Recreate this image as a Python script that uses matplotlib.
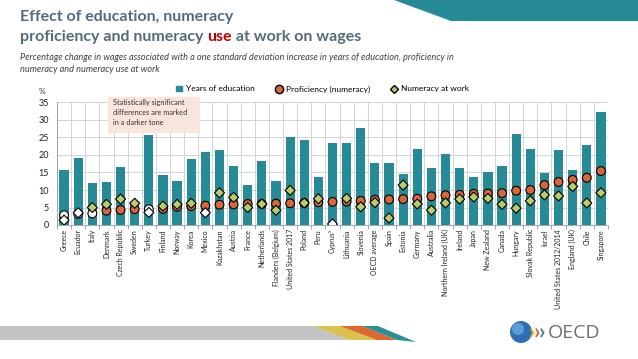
import matplotlib.pyplot as plt
from matplotlib.patches import Polygon, Rectangle, Circle
from matplotlib.lines import Line2D
import numpy as np

plt.rcParams['font.family'] = ['Lato', 'DejaVu Sans']

countries = ['Greece', 'Ecuador', 'Italy', 'Denmark', 'Czech Republic', 'Sweden', 'Turkey',
             'Finland', 'Norway', 'Korea', 'Mexico', 'Kazakhstan', 'Austria', 'France',
             'Netherlands', 'Flanders (Belgium)', 'United States 2017', 'Poland', 'Peru',
             'Cyprus\u00b9', 'Lithuania', 'Slovenia', 'OECD average', 'Spain', 'Estonia',
             'Germany', 'Australia', 'Northern Ireland (UK)', 'Ireland', 'Japan', 'New Zealand',
             'Canada', 'Hungary', 'Slovak Republic', 'Israel', 'United States 2012/2014',
             'England (UK)', 'Chile', 'Singapore']

education = [15.7, 19.0, 11.9, 12.4, 16.5, 6.9, 25.6, 14.3, 12.6, 18.8, 20.8, 21.4, 16.9, 11.4,
             18.4, 12.6, 25.1, 24.4, 13.8, 23.3, 23.3, 27.8, 17.7, 17.8, 14.7, 21.7, 16.3, 20.3,
             16.2, 13.8, 15.1, 16.9, 26.0, 21.7, 14.8, 21.5, 15.7, 22.8, 32.4]

proficiency = [2.8, 3.2, 3.3, 4.1, 4.3, 4.5, 4.5, 4.6, 5.2, 5.4, 5.5, 5.8, 5.9, 6.0, 6.0, 6.1,
               6.2, 6.3, 6.5, 6.6, 6.7, 6.9, 7.2, 7.3, 7.4, 7.5, 8.2, 8.5, 8.6, 8.9, 9.0, 9.1,
               9.8, 10.0, 11.4, 12.3, 12.9, 13.5, 15.4]

numeracy_use = [1.4, 3.5, 5.0, 5.9, 7.4, 6.2, 3.6, 5.4, 5.9, 6.2, 3.5, 9.2, 7.9, 5.0, 6.0, 4.2,
                9.9, 6.3, 7.5, 0.3, 7.6, 5.2, 6.4, 2.0, 11.4, 6.0, 4.2, 6.3, 7.4, 8.0, 7.6, 5.9,
                4.8, 6.9, 8.6, 8.3, 11.0, 6.3, 9.2]

# countries where the effect is not statistically significant (drawn in white)
prof_not_sig = ['Greece', 'Ecuador', 'Italy', 'Turkey']
use_not_sig = ['Greece', 'Ecuador', 'Turkey', 'Mexico', 'Cyprus\u00b9']

teal = '#268b96'
orange = '#d9653b'
green = '#b8cc6a'
title_col = '#566b7a'

fig = plt.figure(figsize=(6.38, 3.59), dpi=100)

# decoration layer in pixel coordinates (drawn above the chart, nothing overlaps but the note)
deco = fig.add_axes([0, 0, 1, 1], zorder=3)
deco.set_xlim(0, 638)
deco.set_ylim(359, 0)
deco.axis('off')

deco.add_patch(Polygon([(394, 0), (638, 0), (638, 21), (451, 21)], closed=True, color='#268b96', lw=0))
deco.add_patch(Polygon([(0, 326), (313, 326), (350, 340), (0, 340)], closed=True, color='#c3c3c3', lw=0))
deco.add_patch(Polygon([(313, 326), (340, 326), (377, 340), (350, 340)], closed=True, color='#d9c14a', lw=0))
deco.add_patch(Polygon([(340, 326), (362, 326), (397, 340), (377, 340)], closed=True, color='#e0662f', lw=0))
deco.add_patch(Polygon([(362, 326), (378, 326), (416, 342), (397, 340)], closed=True, color='#2b8f98', lw=0))

# logo
deco.add_patch(Circle((521, 332), 11, color='#2e6fb3', lw=0))
deco.add_patch(Circle((518, 329), 6, color='#5b9bd6', lw=0))
deco.text(529, 333, '\u203a', color='#e3b33a', fontsize=16, va='center', fontweight='bold')
deco.text(534, 333, '\u203a', color='#e0662f', fontsize=16, va='center', fontweight='bold')
deco.text(539, 333, '\u203a', color='#2b8f98', fontsize=16, va='center', fontweight='bold')
deco.text(548, 333, 'OECD', color='#6e6e6e', fontsize=14, va='center', family=['Open Sans', 'DejaVu Sans'])

# title
fig.canvas.draw()
renderer = fig.canvas.get_renderer()
deco.text(20, 17, 'Effect of education, numeracy', color=title_col, fontsize=11.5,
          fontweight='bold', va='center')
parts = [('proficiency and numeracy ', title_col), ('use', '#c00000'), (' at work on wages', title_col)]
xpos = 20
for txt, col in parts:
    t = deco.text(xpos, 37, txt, color=col, fontsize=11.5, fontweight='bold', va='center')
    bb = t.get_window_extent(renderer=renderer)
    xpos += bb.width
deco.text(20, 58, 'Percentage change in wages associated with a one standard deviation increase in years of education, proficiency in',
          color='#404040', fontsize=6.6, style='italic', va='center')
deco.text(20, 69, 'numeracy and numeracy use at work', color='#404040', fontsize=6.6, style='italic', va='center')
deco.text(39, 92, '%', color='#333333', fontsize=6, va='center')

# note box
deco.add_patch(Rectangle((108, 97), 92, 36, color='#fae5dc', lw=0))
deco.text(113, 99.5, 'Statistically significant\ndifferences are marked\nin a darker tone',
          fontsize=5.3, color='#333333', va='top', ha='left', linespacing=1.45)

# chart
ax = fig.add_axes([57 / 638, 1 - 225 / 359, (608 - 57) / 638, (225 - 102.5) / 359], zorder=2)
ax.patch.set_alpha(0)
x = np.arange(len(countries))

ax.bar(x, education, width=0.65, color=teal, zorder=2)
prof_colors = ['white' if c in prof_not_sig else orange for c in countries]
use_colors = ['white' if c in use_not_sig else green for c in countries]
ax.scatter(x, proficiency, s=40, c=prof_colors, edgecolors='black', linewidths=0.8, marker='o', zorder=3)
ax.scatter(x, numeracy_use, s=26, c=use_colors, edgecolors='black', linewidths=0.8, marker='D', zorder=4)

ax.set_xlim(-0.5, len(countries) - 0.5)
ax.set_ylim(0, 35)
ax.set_yticks(range(0, 36, 5))
ax.set_xticks(x)
ax.set_xticklabels(countries, rotation=90, fontsize=5, color='#222222')
ax.set_xticks(np.arange(-0.5, len(countries), 1), minor=True)
ax.tick_params(axis='x', which='major', length=0, pad=3)
ax.tick_params(axis='x', which='minor', length=3, color='#999999', width=0.6)
ax.tick_params(axis='y', length=0, labelsize=6.5, labelcolor='#222222', pad=6)
ax.grid(True, axis='y', color='#d4d4d4', lw=0.7, zorder=0)
ax.grid(True, axis='x', which='minor', color='#d4d4d4', lw=0.7, zorder=0)
for s in ['top', 'right']:
    ax.spines[s].set_visible(False)
ax.spines['left'].set_color('#999999')
ax.spines['bottom'].set_color('#999999')
ax.spines['left'].set_linewidth(0.6)
ax.spines['bottom'].set_linewidth(0.6)

handles = [Rectangle((0, 0), 1, 1, color=teal),
           Line2D([], [], marker='o', ls='', markerfacecolor=orange, markeredgecolor='black', markersize=6),
           Line2D([], [], marker='D', ls='', markerfacecolor=green, markeredgecolor='black', markersize=4.5)]
fig.legend(handles, ['Years of education', 'Proficiency (numeracy)', 'Numeracy at work'],
           loc='center', bbox_to_anchor=(0.505, 1 - 89 / 359), ncol=3, frameon=False, fontsize=6,
           handlelength=0.8, handletextpad=0.4, columnspacing=2.5)

fig.savefig('out.png', dpi=100)
